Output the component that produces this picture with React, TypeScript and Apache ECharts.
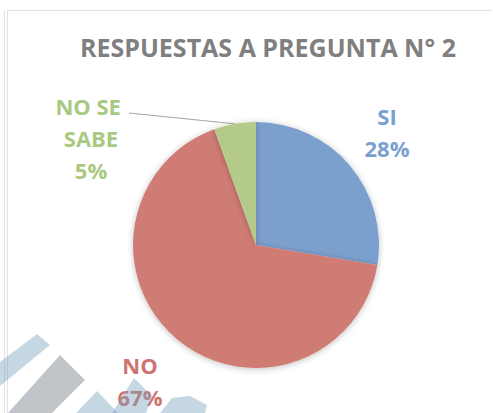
import { useEffect, useRef } from "react";
import * as echarts from "echarts";

const categories = ["SI", "NO", "NO SE SABE"];
const values = [27.6, 66.9, 5.5];
const sliceColors = ["#7ba0cd", "#cf7b75", "#b3ca88"];
const labelColors = ["#7a9fcf", "#cc7570", "#a8c97f"];
const titleText = "RESPUESTAS A PREGUNTA N° 2";

export default function App() {
  const ref = useRef<HTMLDivElement>(null);
  useEffect(() => {
    const chart = echarts.init(ref.current!, null, { renderer: "svg" });
    const labelPos = [
      { x: 387, y: 132 },
      { x: 140, y: 381 },
      { x: 91, y: 138 },
    ];
    const wm = "rgba(120,160,190,0.42)";
    chart.setOption({
      animation: false,
      backgroundColor: "#ffffff",
      title: {
        text: titleText,
        left: 80,
        top: 34,
        padding: 0,
        textStyle: {
          fontFamily: "Open Sans",
          fontWeight: "bold",
          fontSize: 25,
          color: "#7f7f7f",
        },
      },
      graphic: [
        { type: "line", shape: { x1: 4.5, y1: 10, x2: 4.5, y2: 413 }, style: { stroke: "#e2e2e2", lineWidth: 1 }, silent: true },
        { type: "line", shape: { x1: 7.5, y1: 10, x2: 7.5, y2: 413 }, style: { stroke: "#e2e2e2", lineWidth: 1 }, silent: true },
        { type: "line", shape: { x1: 7, y1: 10.5, x2: 492, y2: 10.5 }, style: { stroke: "#e2e2e2", lineWidth: 1 }, silent: true },
        { type: "polygon", z: 100, silent: true, shape: { points: [[0, 362], [37, 334], [50, 345], [0, 386]] }, style: { fill: wm } },
        { type: "polygon", z: 100, silent: true, shape: { points: [[60, 355], [85, 380], [52, 413], [8, 413]] }, style: { fill: "#c1c5c9" } },
        { type: "polygon", z: 100, silent: true, shape: { points: [[76, 413], [97, 391], [118, 413]] }, style: { fill: wm } },
        { type: "polygon", z: 100, silent: true, shape: { points: [[112, 413], [134, 378], [152, 396], [146, 413]] }, style: { fill: wm } },
        { type: "polygon", z: 100, silent: true, shape: { points: [[160, 413], [172, 398], [190, 396], [207, 405], [205, 413]] }, style: { fill: wm } },
      ],
      series: [
        {
          type: "pie",
          center: [256, 245],
          radius: 123,
          startAngle: 90,
          clockwise: true,
          percentPrecision: 0,
          itemStyle: {
            shadowBlur: 6,
            shadowColor: "rgba(0,0,0,0.25)",
            shadowOffsetY: 1,
          },
          label: {
            show: true,
            formatter: "{b}\n{d}%",
            fontFamily: "Open Sans",
            fontWeight: "bold",
            fontSize: 22,
            lineHeight: 32,
            align: "center",
          },
          labelLine: { show: false },
          labelLayout: (params: any) => {
            const out: any = {
              x: labelPos[params.dataIndex].x,
              y: labelPos[params.dataIndex].y,
              align: "center",
              verticalAlign: "middle",
            };
            if (params.dataIndex === 2 && params.labelLinePoints) {
              const start = params.labelLinePoints[0];
              out.labelLinePoints = [start, [129, 113], [129, 113]];
            }
            return out;
          },
          data: categories.map((name, i) => ({
            name,
            value: values[i],
            itemStyle: { color: sliceColors[i] },
            label:
              i === 2
                ? { color: labelColors[i], width: 80, overflow: "break" }
                : { color: labelColors[i] },
            labelLine:
              i === 2
                ? { show: true, length: 0, length2: 0, lineStyle: { color: "#a6a6a6", width: 1 } }
                : { show: false },
          })),
        },
      ],
    });
    return () => chart.dispose();
  }, []);
  return (
    <div
      ref={ref}
      style={{ position: "absolute", left: 0, top: 0, width: 493, height: 413 }}
    />
  );
}
